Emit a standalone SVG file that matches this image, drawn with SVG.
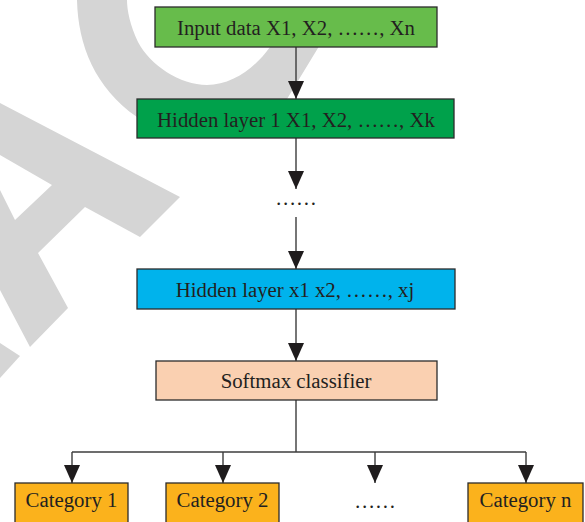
<svg xmlns="http://www.w3.org/2000/svg" width="585" height="522" viewBox="0 0 585 522">
  <defs>
    <style>
      .box { stroke: #2b2b2b; stroke-width: 1.3; }
      .lbl { font-family: "Liberation Serif", "Times New Roman", serif; font-size: 20.8px; fill: #231f20; text-anchor: middle; }
      .wire { fill: none; stroke: #3c3c3c; stroke-width: 1.4; }
      .wm { fill: #d5d5d5; stroke: none; }
    </style>
    <marker id="arrow" markerUnits="userSpaceOnUse" markerWidth="18" markerHeight="16" viewBox="0 0 18 16" refX="18" refY="8" orient="auto">
      <path d="M0,0 L18,8 L0,16 Z" fill="#1f1c1d"/>
    </marker>
  </defs>

  <rect width="585" height="522" fill="#ffffff"/>

  <g id="watermark">
    <path class="wm" d="M77,0 C78,45 95,88 137,117 C170,138 255,128 287,99 L318,48 L330,20 L275,20 L270,47 C255,68 232,85 207,85 C180,85 150,65 138,42 C130,25 127,10 127,0 Z"/>
    <path class="wm" fill-rule="evenodd" d="M0,103 L180,197 L140,237 L85,207 L38,253 L68,308 L30,347 L0,290 Z M0,155 L52,185 L15,220 L0,190 Z"/>
    <path class="wm" d="M0,343 L20,356 L0,378 Z"/>
  </g>

  <g id="connectors">
    <line class="wire" x1="296" y1="47" x2="296" y2="99" marker-end="url(#arrow)"/>
    <line class="wire" x1="296" y1="138" x2="296" y2="189" marker-end="url(#arrow)"/>
    <line class="wire" x1="296" y1="217" x2="296" y2="269" marker-end="url(#arrow)"/>
    <line class="wire" x1="296" y1="309" x2="296" y2="361" marker-end="url(#arrow)"/>
    <polyline class="wire" points="296,400 296,452"/>
    <polyline class="wire" points="72,452 526,452"/>
    <line class="wire" x1="72" y1="452" x2="72" y2="483" marker-end="url(#arrow)"/>
    <line class="wire" x1="223" y1="452" x2="223" y2="483" marker-end="url(#arrow)"/>
    <line class="wire" x1="375" y1="452" x2="375" y2="483" marker-end="url(#arrow)"/>
    <line class="wire" x1="526" y1="452" x2="526" y2="483" marker-end="url(#arrow)"/>
  </g>

  <g id="input">
    <rect class="box" x="155" y="7" width="282" height="40" fill="#67bc4b"/>
    <text class="lbl" x="296" y="34.5">Input data X1, X2, ……, Xn</text>
  </g>
  <g id="hidden1">
    <rect class="box" x="137" y="99" width="317" height="39" fill="#00a14b"/>
    <text class="lbl" x="296" y="126.5">Hidden layer 1 X1, X2, ……, Xk</text>
  </g>
  <g id="dots-mid">
    <text class="lbl" x="296" y="205">……</text>
  </g>
  <g id="hiddenj">
    <rect class="box" x="137" y="269" width="318" height="40" fill="#00b3ec"/>
    <text class="lbl" x="295" y="297">Hidden layer x1 x2, ……, xj</text>
  </g>
  <g id="softmax">
    <rect class="box" x="156" y="361" width="281" height="39" fill="#fad0b1"/>
    <text class="lbl" x="296" y="387.5">Softmax classifier</text>
  </g>
  <g id="cat1">
    <rect class="box" x="15" y="483" width="113" height="42" fill="#fbb21c"/>
    <text class="lbl" x="71.5" y="507">Category 1</text>
  </g>
  <g id="cat2">
    <rect class="box" x="166" y="483" width="113" height="42" fill="#fbb21c"/>
    <text class="lbl" x="222.5" y="507">Category 2</text>
  </g>
  <g id="dots-cat">
    <text class="lbl" x="375" y="508">……</text>
  </g>
  <g id="catn">
    <rect class="box" x="468" y="483" width="115" height="42" fill="#fbb21c"/>
    <text class="lbl" x="525.5" y="507">Category n</text>
  </g>
</svg>
